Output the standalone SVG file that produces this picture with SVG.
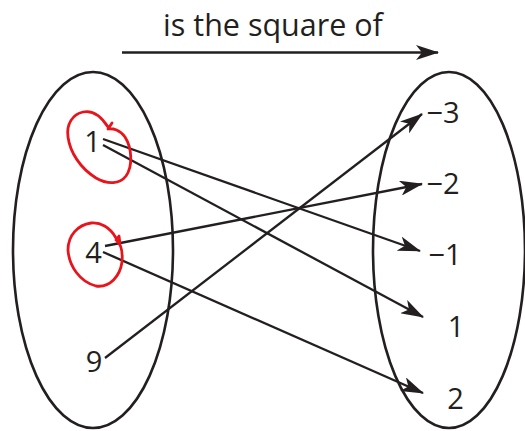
<svg xmlns="http://www.w3.org/2000/svg" width="525" height="431" viewBox="0 0 525 431">
<defs>
<style>
.set{fill:none;stroke:#231f20;stroke-width:2.6}
.conn line{stroke:#231f20;stroke-width:2.3}
.lbl{font-family:"Open Sans","Noto Sans",sans-serif;font-size:29px;fill:#231f20;text-anchor:middle}
.ttl{font-family:"Open Sans","Noto Sans",sans-serif;font-size:30.5px;fill:#231f20;text-anchor:middle}
.mark{fill:none;stroke:#e8141c;stroke-width:2.8;stroke-linecap:round;stroke-linejoin:round}
</style>
<marker id="ah" viewBox="0 0 23 15" refX="22" refY="7.5" markerWidth="23" markerHeight="15" markerUnits="userSpaceOnUse" orient="auto">
<path d="M0,0 L23,7.5 L0,15 L6,7.5 Z" fill="#231f20"/>
</marker>
</defs>
<rect width="525" height="431" fill="#ffffff"/>
<g id="title">
<text class="ttl" x="273" y="36">is the square of</text>
<line x1="122" y1="52.5" x2="438" y2="52.5" stroke="#231f20" stroke-width="2.4" marker-end="url(#ah)"/>
</g>
<g id="domain">
<ellipse class="set" cx="93" cy="250" rx="80" ry="178"/>
</g>
<g id="range">
<ellipse class="set" cx="449" cy="250" rx="76" ry="178"/>
</g>
<g id="n1"><text class="lbl" x="92.5" y="152">1</text></g>
<g id="n4"><text class="lbl" x="93.5" y="263">4</text></g>
<g id="n9"><text class="lbl" x="94" y="372">9</text></g>
<g id="m3"><text class="lbl" x="443" y="123">−3</text></g>
<g id="m2"><text class="lbl" x="443" y="194">−2</text></g>
<g id="m1"><text class="lbl" x="445" y="265">−1</text></g>
<g id="p1"><text class="lbl" x="456" y="337">1</text></g>
<g id="p2"><text class="lbl" x="455.5" y="409">2</text></g>
<g id="connectors" class="conn">
<line x1="103" y1="139" x2="420" y2="251" marker-end="url(#ah)"/>
<line x1="103" y1="145" x2="423" y2="317" marker-end="url(#ah)"/>
<line x1="105" y1="246" x2="422" y2="184" marker-end="url(#ah)"/>
<line x1="103" y1="252" x2="423" y2="393" marker-end="url(#ah)"/>
<line x1="105" y1="358" x2="422" y2="114" marker-end="url(#ah)"/>
</g>
<g id="annotations">
<path class="mark" d="M108,127 C101,116 92,110 83,112 C73,114 66,124 68,137 C70,152 80,168 96,178 C108,185 120,184 126,176 C133,166 132,148 125,137 C120,130 113,128 108,129 L112,123"/>
<path class="mark" d="M116,238 C110,227 100,222 91,223 C78,225 68,235 68,250 C69,266 80,282 96,286 C110,288 120,276 122,262 C123,250 120,243 116,240 L119,236 L120,244"/>
</g>
</svg>
